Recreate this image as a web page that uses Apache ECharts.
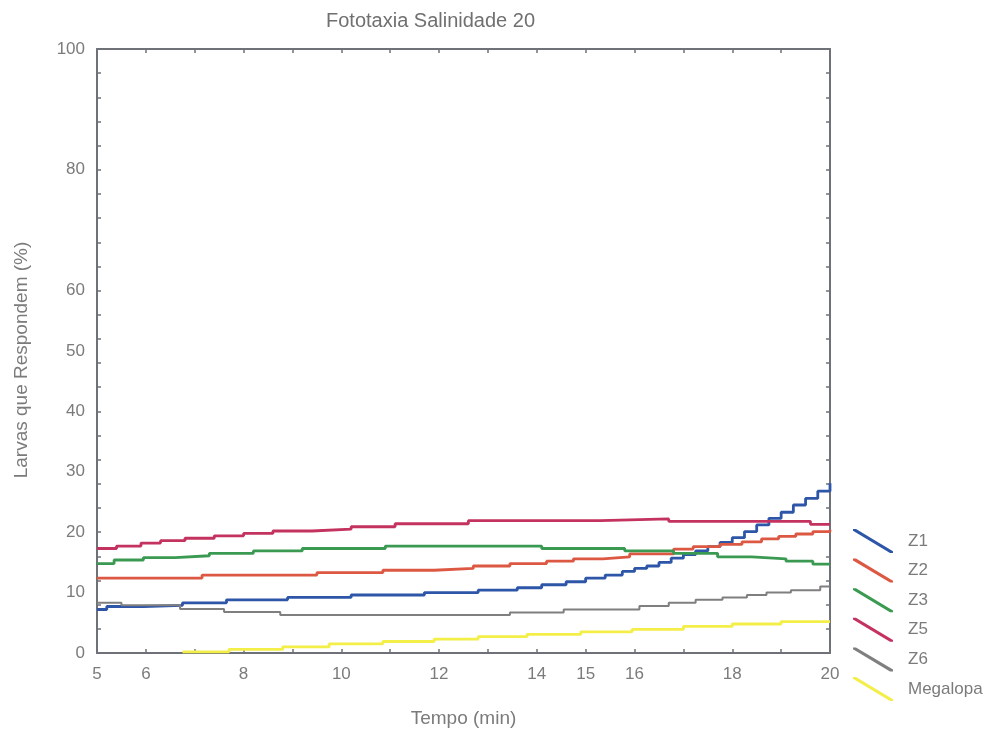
<!DOCTYPE html>
<html>
<head>
<meta charset="utf-8">
<script src="https://cdn.jsdelivr.net/npm/echarts@6/dist/echarts.min.js"></script>
<style>html,body{margin:0;padding:0;background:#fff}#c{width:1008px;height:740px}</style>
</head>
<body>
<div id="c"></div>
<script>
// ---- data ----
var seriesNames = ['Z1', 'Z2', 'Z3', 'Z5', 'Z6', 'Megalopa'];

var z1T = [5, 5.2, 5.95, 6.75, 7.65, 8.9, 10.2, 11.7, 12.8, 13.6, 14.1, 14.6, 15.0, 15.4, 15.75, 16.0, 16.25, 16.5, 16.75, 17.0, 17.25, 17.5, 17.75, 18.0, 18.25, 18.5, 18.75, 19.0, 19.25, 19.5, 19.75, 20];
var z1V = [7.2, 7.7, 7.9, 8.3, 8.8, 9.2, 9.6, 10.0, 10.4, 10.8, 11.3, 11.8, 12.4, 12.9, 13.5, 14.0, 14.4, 15.0, 15.7, 16.3, 16.9, 17.6, 18.3, 19.1, 20.1, 21.2, 22.3, 23.3, 24.5, 25.6, 26.8, 28.1];

var z2T = [5, 7.15, 9.5, 10.85, 11.9, 12.7, 13.45, 14.2, 14.75, 15.35, 15.9, 16.8, 17.2, 17.75, 18.2, 18.6, 18.95, 19.3, 19.65, 20];
var z2V = [12.4, 12.9, 13.3, 13.7, 14.0, 14.4, 14.8, 15.2, 15.6, 15.9, 16.4, 17.2, 17.6, 18.0, 18.4, 18.9, 19.3, 19.7, 20.1, 20.4];

var z3T = [5, 5.35, 5.95, 6.6, 7.3, 8.2, 9.2, 10.9, 14.1, 15.8, 16.8, 17.7, 18.4, 19.1, 19.65, 20];
var z3V = [14.8, 15.4, 15.8, 16.1, 16.5, 16.9, 17.3, 17.7, 17.3, 16.9, 16.5, 15.9, 15.6, 15.2, 14.7, 14.7];

var z5T = [5, 5.4, 5.9, 6.3, 6.8, 7.4, 8.0, 8.6, 9.4, 10.2, 11.1, 12.6, 15.3, 16.7, 19.6, 20];
var z5V = [17.3, 17.7, 18.2, 18.6, 19.0, 19.4, 19.8, 20.2, 20.5, 20.9, 21.4, 21.9, 22.2, 21.8, 21.3, 21.3];

var z6T = [5, 5.5, 6.7, 7.6, 8.75, 13.45, 14.55, 16.1, 16.7, 17.25, 17.8, 18.3, 18.7, 19.2, 19.8, 20];
var z6V = [8.3, 7.9, 7.3, 6.8, 6.3, 6.7, 7.2, 7.8, 8.3, 8.8, 9.2, 9.6, 10.0, 10.4, 11.0, 11.0];

var megT = [6.75, 7.7, 8.8, 9.75, 10.85, 11.9, 12.8, 13.8, 14.9, 15.95, 17.0, 18.0, 19.0, 20];
var megV = [0.2, 0.6, 1.0, 1.5, 1.9, 2.3, 2.7, 3.1, 3.5, 3.9, 4.4, 4.8, 5.2, 5.2];

var xTickLabels = [5, 6, 8, 10, 12, 14, 15, 16, 18, 20];
var xTicks = [6, 7, 8, 9, 10, 11, 12, 13, 14, 15, 16, 17, 18, 19];
var yTickLabels = [0, 10, 20, 30, 40, 50, 60, 80, 100];
var yTicks = [4, 8, 12, 16, 20, 24, 28, 32, 36, 40, 44, 48, 52, 56, 60, 64, 68, 72, 76, 80, 84, 88, 92, 96];

var colors = ['#2d55a8', '#dc5843', '#3a9a52', '#c4325f', '#7f7f7f', '#f3ee48'];

function pairs(t, v) { return t.map(function (x, i) { return [x, v[i]]; }); }
var allData = [pairs(z1T, z1V), pairs(z2T, z2V), pairs(z3T, z3V), pairs(z5T, z5V), pairs(z6T, z6V), pairs(megT, megV)];

var axisCol = '#6e7278';
var txtCol = '#7b7b7b';
var font = 'Liberation Sans, Arial, sans-serif';

var chart = echarts.init(document.getElementById('c'), null, { renderer: 'canvas' });

function xAx(pos, labels) {
  return {
    type: 'value', position: pos, min: 5, max: 20,
    axisLine: { show: true, onZero: false, lineStyle: { color: axisCol, width: 2 } },
    axisTick: { show: true, inside: true, length: 4, customValues: xTicks, lineStyle: { color: axisCol, width: 1.5 } },
    axisLabel: labels ? { show: true, customValues: xTickLabels, color: txtCol, fontSize: 17, fontFamily: font, margin: 13 } : { show: false },
    splitLine: { show: false },
    name: labels ? 'Tempo (min)' : '', nameLocation: 'middle', nameGap: 56,
    nameTextStyle: { color: txtCol, fontSize: 19, fontFamily: font }
  };
}
function yAx(pos, labels) {
  return {
    type: 'value', position: pos, min: 0, max: 100,
    axisLine: { show: true, onZero: false, lineStyle: { color: axisCol, width: 2 } },
    axisTick: { show: true, inside: true, length: 4, customValues: yTicks, lineStyle: { color: axisCol, width: 1.5 } },
    axisLabel: labels ? { show: true, customValues: yTickLabels, color: txtCol, fontSize: 17, fontFamily: font, margin: 12 } : { show: false },
    splitLine: { show: false },
    name: labels ? 'Larvas que Respondem (%)' : '', nameLocation: 'middle', nameGap: 66,
    nameTextStyle: { color: txtCol, fontSize: 19, fontFamily: font, padding: [0, 18, 0, 0] }
  };
}

var iconPath = 'path://M0,0 L3,0 L40,22.2 L40,24 L37,24 L0,1.8 Z';

chart.setOption({
  backgroundColor: '#ffffff',
  animation: false,
  title: {
    text: 'Fototaxia Salinidade 20', left: 321, top: 6,
    textStyle: { color: '#707070', fontSize: 20, fontWeight: 'normal', fontFamily: font }
  },
  grid: { left: 97, right: 178, top: 49, bottom: 87, containLabel: false },
  xAxis: [xAx('bottom', true), xAx('top', false)],
  yAxis: [yAx('left', true), yAx('right', false)],
  legend: {
    orient: 'vertical', left: 853, top: 529, padding: 0,
    itemWidth: 40, itemHeight: 24, itemGap: 5.6,
    icon: iconPath,
    data: seriesNames,
    textStyle: { color: txtCol, fontSize: 17, fontFamily: font, padding: [0, 0, 0, 10] }
  },
  series: seriesNames.map(function (n, i) {
    return {
      name: n, type: 'line', xAxisIndex: 0, yAxisIndex: 0,
      data: allData[i], step: 'end', symbol: 'none',
      color: colors[i],
      lineStyle: { color: colors[i], width: i === 4 ? 2 : 2.8 },
      itemStyle: { color: colors[i] }
    };
  })
});
</script>
</body>
</html>
